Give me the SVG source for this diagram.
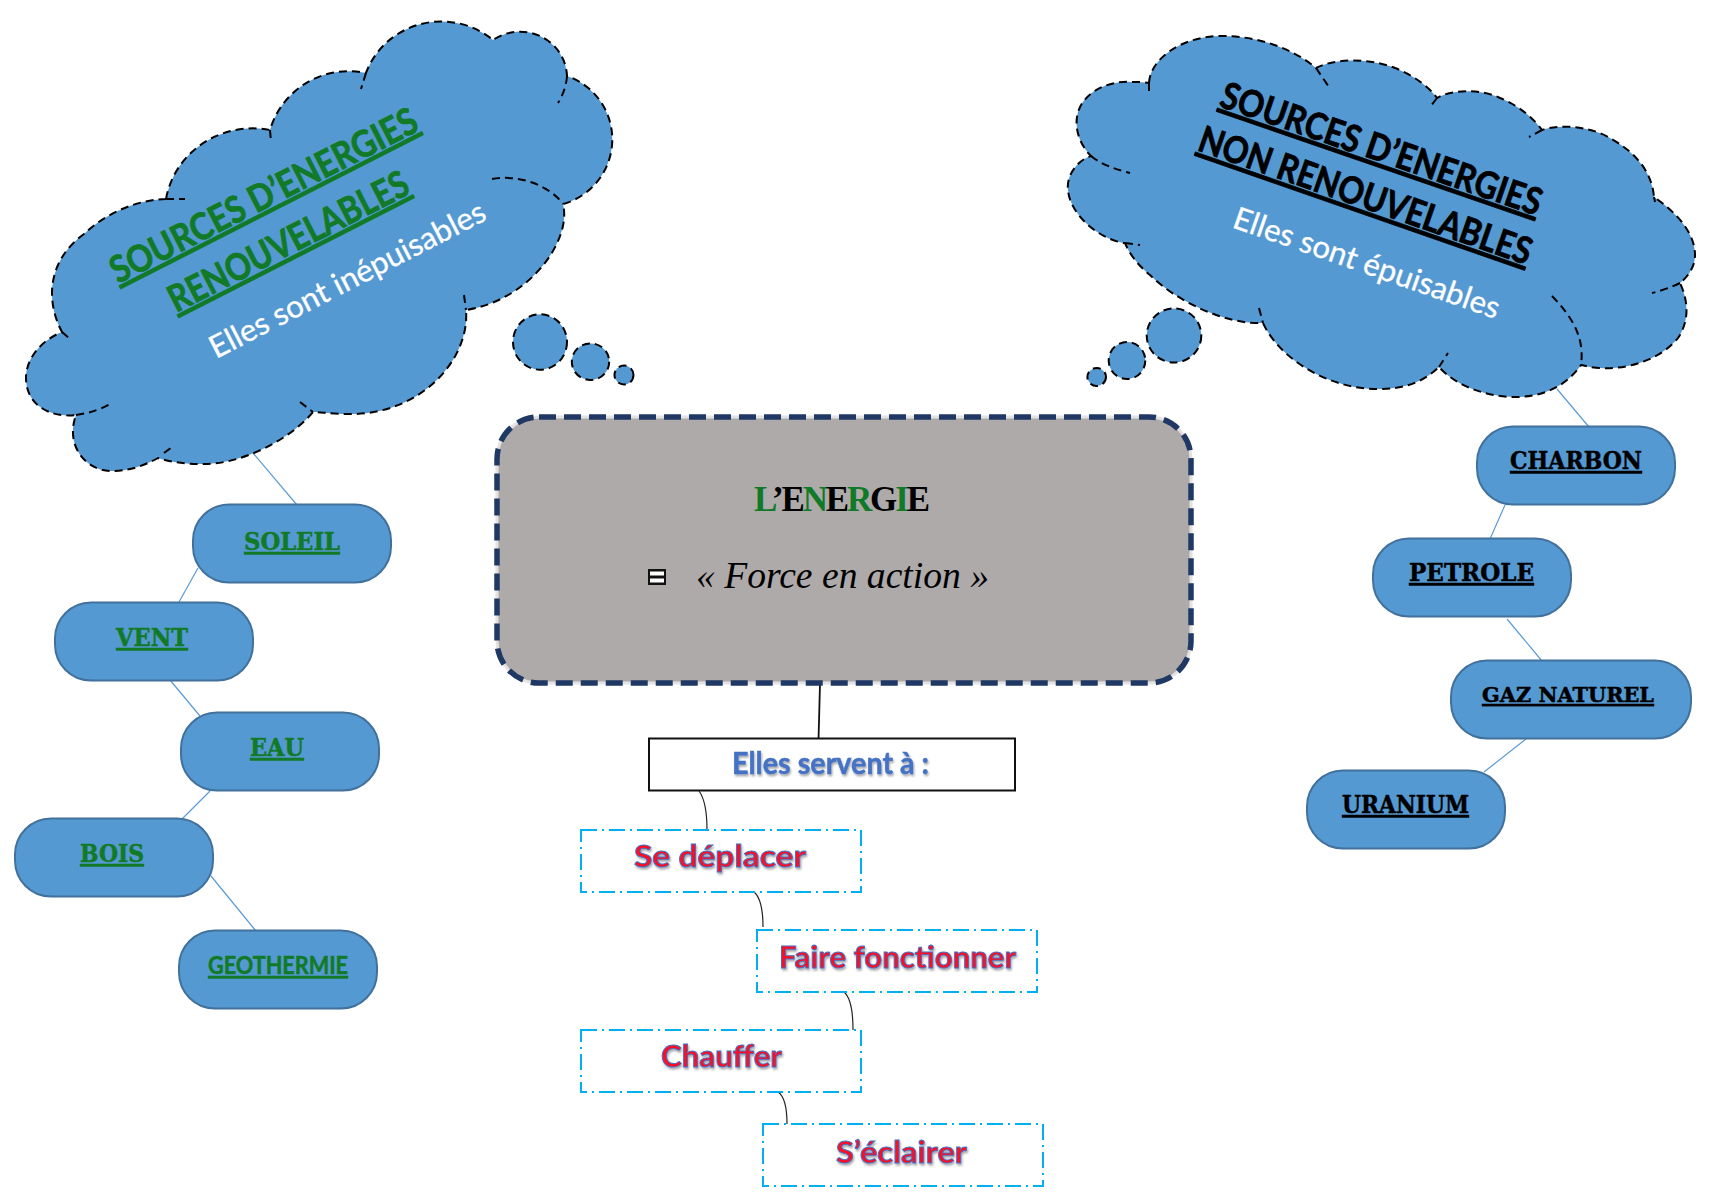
<svg xmlns="http://www.w3.org/2000/svg" width="1724" height="1202" viewBox="0 0 1724 1202">
<defs>
<filter id="sh" x="-10%" y="-30%" width="120%" height="170%"><feDropShadow dx="1" dy="2" stdDeviation="1.2" flood-color="#000" flood-opacity="0.35"/></filter>
</defs>
<style>
.cloud{fill:#5599d2;stroke:#000;stroke-width:2;stroke-dasharray:8 5}
.inner{fill:none;stroke:#000;stroke-width:2;stroke-dasharray:8 5}
.pill{fill:#5599d2;stroke:#41719c;stroke-width:2}
.lk{fill:none;stroke:#5b9bd5;stroke-width:1.2}
.cv{fill:none;stroke:#222;stroke-width:1.2}
.act{fill:#fff;stroke:#00b0f0;stroke-width:2;stroke-dasharray:16 5 2 5}
.bk{font-family:"DejaVu Serif","Liberation Serif",serif;font-weight:700;font-size:25px;text-decoration:underline;stroke-width:.5px}
.gr{fill:#117a26;stroke:#117a26}
.blk{fill:#000;stroke:#000}
.cal{font-family:Lato,"Open Sans",sans-serif}
.tt{font-weight:700;font-size:37px;text-decoration:underline;stroke-width:.8px}
.sub{font-size:31px;fill:#fff;stroke:#fff;stroke-width:.3px}
.red{font-family:Lato,"Open Sans",sans-serif;font-weight:700;font-size:31px;fill:#ff0a20;stroke:#4472c4;stroke-width:1;filter:url(#sh)}
</style>
<g id="connectors">
<path class="lk" d="M253,453L297,505M198,568L179,602M170,680L200,716M210,791L182,819M211,876L256,931"/>
<path class="lk" d="M1557,389L1589,427M1505,505L1490,539M1507,619L1542,661M1526,739L1484,772"/>
<path d="M820,684L818.500,740" fill="none" stroke="#111" stroke-width="1.800"/>
<path class="cv" d="M699,791C705,799 707,814 707,830"/>
<path class="cv" d="M754,892C760,897 763,909 763,927"/>
<path class="cv" d="M844,992C850,997 853,1009 853,1030"/>
<path class="cv" d="M778,1092C784,1096 787,1107 787,1124"/>
</g>
<g id="cloud-renouvelables">
<path class="cloud" d="M166,199A88,85 0 0 1 270,130A82,82 0 0 1 366,73A80,78 0 0 1 493,40A47,46 0 0 1 567,76A67,67 0 0 1 563,204C572,240 530,300 466,310C470,360 420,415 349,414C330,414 322,412 313,412C290,440 240,465 202,464C185,464 170,462 158,458C140,468 125,471 112,471C85,471 65,445 76,415C50,418 26,405 26,378C26,358 42,340 62,332C45,300 48,260 84,234C105,214 135,200 166,199Z"/>
<path class="inner" d="M62,332L69,338M76,415C90,413 102,409 112,403M164,453L172,447M300,402L313,412M464,295L466,310M492,179C520,174 550,186 563,204M567,76Q566,90 558,103M366,73L361,89M270,130L271,142M166,199L185,199"/>
<ellipse class="cloud" cx="540" cy="342" rx="27" ry="27.700"/>
<ellipse class="cloud" cx="590.500" cy="361.700" rx="18.700" ry="18.300"/>
<ellipse class="cloud" cx="624" cy="375" rx="9.500" ry="9.500"/>
<text class="cal tt gr" transform="translate(118,284) rotate(-27)" textLength="340" lengthAdjust="spacingAndGlyphs">SOURCES D’ENERGIES</text>
<text class="cal tt gr" transform="translate(176,313) rotate(-27)" textLength="265" lengthAdjust="spacingAndGlyphs">RENOUVELABLES</text>
<text class="cal sub" transform="translate(216,359) rotate(-27.200)" textLength="306" lengthAdjust="spacingAndGlyphs">Elles sont inépuisables</text>
</g>
<g id="cloud-non-renouvelables">
<path class="cloud" d="M1149,83C1150,60 1180,36 1222,36C1260,36 1295,50 1316,68C1335,58 1370,58 1395,68C1415,76 1430,88 1437,98C1450,90 1480,88 1500,98C1520,106 1535,120 1542,130C1560,124 1590,126 1610,138C1640,155 1652,175 1654,197C1680,215 1695,235 1695,255C1695,265 1690,275 1680,283C1688,300 1690,320 1678,338C1662,358 1630,370 1600,368C1592,368 1586,366 1581,365C1565,388 1540,397 1516,397C1485,397 1455,385 1439,367C1420,385 1400,389 1377,389C1330,389 1280,360 1263,323C1225,325 1175,300 1150,275C1138,265 1130,255 1125,243C1100,240 1070,215 1068,190C1066,175 1078,160 1091,156C1080,145 1075,130 1077,117C1080,95 1105,80 1132,82C1138,82 1144,82 1149,83Z"/>
<path class="inner" d="M1091,156C1102,165 1115,169 1130,173M1125,243L1140,245M1149,83L1149,96M1316,68L1329,87M1437,98L1430,107M1542,130L1529,137M1654,197L1655,202M1680,283C1670,288 1660,291 1652,293M1552,296C1570,315 1585,335 1581,365M1439,367L1448,353M1259,308L1263,323"/>
<ellipse class="cloud" cx="1174" cy="335.500" rx="27.300" ry="27"/>
<ellipse class="cloud" cx="1127" cy="360.500" rx="18.300" ry="18.500"/>
<ellipse class="cloud" cx="1096.700" cy="377" rx="9.300" ry="9"/>
<text class="cal tt blk" transform="translate(1218,106) rotate(19)" textLength="337" lengthAdjust="spacingAndGlyphs">SOURCES D’ENERGIES</text>
<text class="cal tt blk" transform="translate(1196,150) rotate(19.200)" textLength="350" lengthAdjust="spacingAndGlyphs">NON RENOUVELABLES</text>
<text class="cal sub" transform="translate(1231,227) rotate(19.200)" textLength="280" lengthAdjust="spacingAndGlyphs">Elles sont épuisables</text>
</g>
<g id="energie">
<rect x="497" y="417" width="694" height="266" rx="42" fill="#aeaaaa" stroke="#e4e2e2" stroke-width="3"/>
<rect x="497" y="417" width="694" height="266" rx="42" fill="none" stroke="#1f3864" stroke-width="5.500" stroke-dasharray="17 8"/>
<text x="754" y="511" font-family="'Liberation Serif',serif" font-weight="700" font-size="35" textLength="176" lengthAdjust="spacing"><tspan fill="#117a26">L</tspan>’E<tspan fill="#117a26">N</tspan>E<tspan fill="#117a26">R</tspan>G<tspan fill="#117a26">I</tspan>E</text>
<rect x="648" y="569" width="18" height="16" fill="#111"/>
<rect x="650" y="571.500" width="14" height="4" fill="#fff"/>
<rect x="650" y="578.500" width="14" height="4" fill="#fff"/>
<text x="696" y="588" font-family="'Liberation Serif',serif" font-style="italic" font-size="38" textLength="293" lengthAdjust="spacingAndGlyphs">« Force en action »</text>
</g>
<g id="servent">
<rect x="649" y="738.500" width="366" height="52" fill="#fff" stroke="#111" stroke-width="2"/>
<text x="732" y="774" font-family="Lato,'Open Sans',sans-serif" font-weight="700" font-size="30" fill="#4472c4" stroke="#4472c4" stroke-width=".5" filter="url(#sh)" textLength="197" lengthAdjust="spacingAndGlyphs">Elles servent à :</text>
</g>
<g id="deplacer"><rect class="act" x="581" y="830" width="280" height="62"/><text class="red" x="634" y="867" textLength="172" lengthAdjust="spacingAndGlyphs">Se déplacer</text></g>
<g id="fonctionner"><rect class="act" x="757" y="930" width="280" height="62"/><text class="red" x="779" y="968" textLength="237" lengthAdjust="spacingAndGlyphs">Faire fonctionner</text></g>
<g id="chauffer"><rect class="act" x="581" y="1030" width="280" height="62"/><text class="red" x="661" y="1067" textLength="121" lengthAdjust="spacingAndGlyphs">Chauffer</text></g>
<g id="eclairer"><rect class="act" x="763" y="1124" width="280" height="62"/><text class="red" x="836" y="1163" textLength="131" lengthAdjust="spacingAndGlyphs">S’éclairer</text></g>
<g id="soleil"><rect class="pill" x="193" y="504.500" width="198" height="78" rx="36"/><text class="bk gr" x="244" y="550" textLength="96" lengthAdjust="spacingAndGlyphs">SOLEIL</text></g>
<g id="vent"><rect class="pill" x="55" y="602.500" width="198" height="78" rx="36"/><text class="bk gr" x="116" y="646" textLength="72" lengthAdjust="spacingAndGlyphs">VENT</text></g>
<g id="eau"><rect class="pill" x="181" y="712.500" width="198" height="78" rx="36"/><text class="bk gr" x="250" y="756" textLength="54" lengthAdjust="spacingAndGlyphs">EAU</text></g>
<g id="bois"><rect class="pill" x="15" y="818.500" width="198" height="78" rx="36"/><text class="bk gr" x="80" y="862" textLength="64" lengthAdjust="spacingAndGlyphs">BOIS</text></g>
<g id="geothermie"><rect class="pill" x="179" y="930.500" width="198" height="78" rx="36"/><text class="gr" x="208" y="974" font-family="Lato,'Open Sans',sans-serif" font-weight="700" font-size="24" stroke-width=".5" text-decoration="underline" textLength="140" lengthAdjust="spacingAndGlyphs">GEOTHERMIE</text></g>
<g id="charbon"><rect class="pill" x="1477" y="426.500" width="198" height="78" rx="36"/><text class="bk blk" x="1510" y="469" textLength="132" lengthAdjust="spacingAndGlyphs">CHARBON</text></g>
<g id="petrole"><rect class="pill" x="1373" y="538.500" width="198" height="78" rx="36"/><text class="bk blk" x="1409" y="581" textLength="125" lengthAdjust="spacingAndGlyphs">PETROLE</text></g>
<g id="gaz"><rect class="pill" x="1451" y="660.500" width="240" height="78" rx="36"/><text class="bk blk" x="1482" y="702" style="font-size:21px" textLength="172" lengthAdjust="spacingAndGlyphs">GAZ NATUREL</text></g>
<g id="uranium"><rect class="pill" x="1307" y="770.500" width="198" height="78" rx="36"/><text class="bk blk" x="1342" y="813" textLength="127" lengthAdjust="spacingAndGlyphs">URANIUM</text></g>
</svg>
